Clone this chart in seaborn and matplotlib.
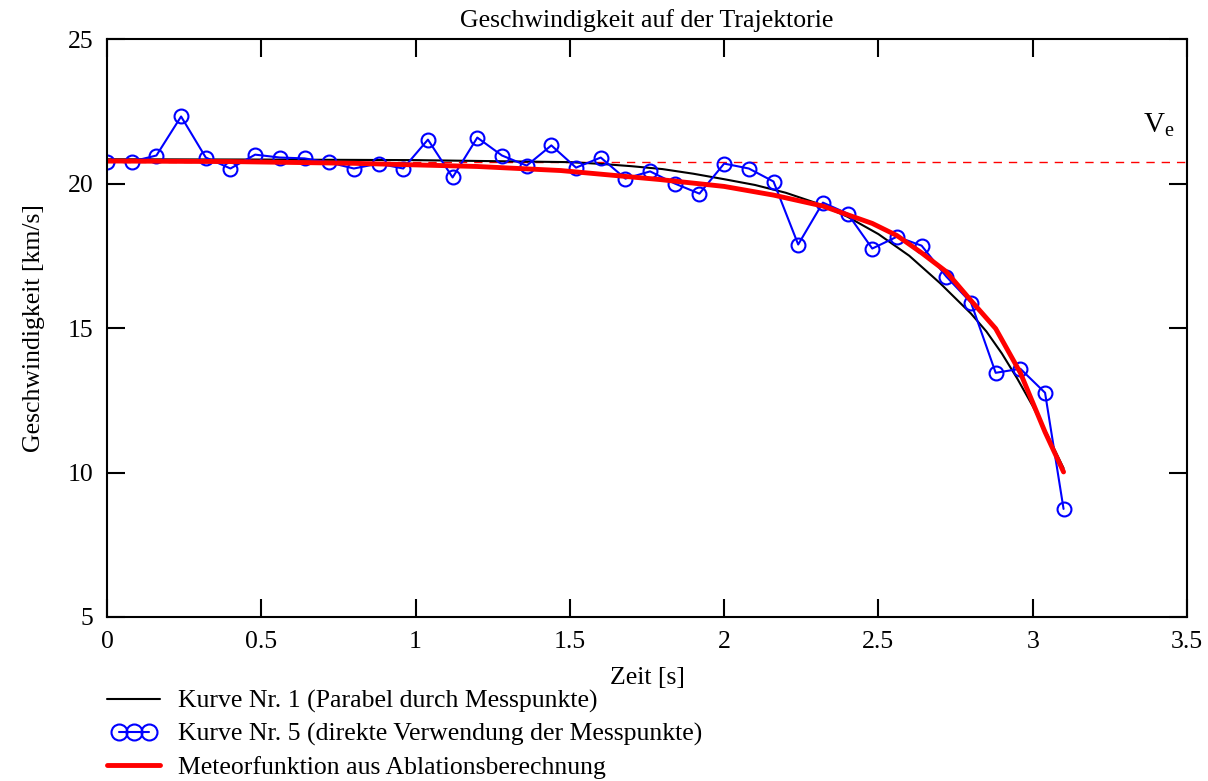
import numpy as np
import pandas as pd
import seaborn as sns
import matplotlib.pyplot as plt
from matplotlib.lines import Line2D
from matplotlib.legend_handler import HandlerLine2D

# measured points (Kurve Nr. 5)
t_mess = [0.00, 0.08, 0.16, 0.24, 0.32, 0.40, 0.48, 0.56, 0.64, 0.72,
          0.80, 0.88, 0.96, 1.04, 1.12, 1.20, 1.28, 1.36, 1.44, 1.52,
          1.60, 1.68, 1.76, 1.84, 1.92, 2.00, 2.08, 2.16, 2.24, 2.32,
          2.40, 2.48, 2.56, 2.64, 2.72, 2.80, 2.88, 2.96, 3.04, 3.10]
v_mess = [20.76, 20.76, 20.97, 22.32, 20.90, 20.52, 21.00, 20.90, 20.87, 20.73,
          20.52, 20.69, 20.52, 21.52, 20.21, 21.59, 20.97, 20.62, 21.32, 20.55,
          20.90, 20.17, 20.42, 20.00, 19.65, 20.69, 20.52, 20.07, 17.89, 19.34,
          18.96, 17.75, 18.16, 17.85, 16.78, 15.88, 13.45, 13.59, 12.76, 8.74]

# parabola through the measured points (Kurve Nr. 1)
t_parabel = [0.00, 0.50, 1.00, 1.50, 1.60, 1.70, 1.80, 1.90, 2.00, 2.10,
             2.20, 2.30, 2.40, 2.50, 2.60, 2.70, 2.80, 2.85, 2.90, 2.95,
             3.00, 3.05, 3.10]
v_parabel = [20.84, 20.83, 20.81, 20.74, 20.68, 20.60, 20.50, 20.34, 20.15, 19.95,
             19.68, 19.32, 18.85, 18.25, 17.50, 16.55, 15.50, 14.88, 14.12, 13.25,
             12.30, 11.25, 10.15]

# meteor function from ablation calculation
t_meteor = [0.00, 0.40, 0.80, 1.20, 1.47, 1.79, 2.00, 2.16, 2.32, 2.48,
            2.56, 2.64, 2.72, 2.80, 2.88, 2.96, 3.04, 3.10]
v_meteor = [20.78, 20.76, 20.70, 20.59, 20.45, 20.14, 19.90, 19.60, 19.22, 18.62,
            18.20, 17.60, 16.95, 15.95, 14.98, 13.45, 11.40, 10.02]

v_e = 20.76

sns.set_style("ticks")
plt.rcParams['font.family'] = ['Liberation Serif', 'DejaVu Serif']
plt.rcParams['mathtext.fontset'] = 'custom'
plt.rcParams['mathtext.rm'] = 'Liberation Serif'
plt.rcParams['mathtext.it'] = 'Liberation Serif'
plt.rcParams['text.color'] = 'black'
plt.rcParams['axes.labelcolor'] = 'black'

fs = 18.5

fig = plt.figure(figsize=(12.08, 7.81), dpi=100)
ax = fig.add_axes([0.0886, 0.21, 0.894, 0.74])

ax.axhline(v_e, color="red", lw=1, ls=(0, (6, 5)))

sns.lineplot(x=t_parabel, y=v_parabel, ax=ax, color="black", lw=1.5,
             sort=False, estimator=None)
sns.lineplot(x=t_mess, y=v_mess, ax=ax, color="blue", lw=1.5, marker="o",
             markersize=10, markerfacecolor="none", markeredgecolor="blue",
             markeredgewidth=1.5, sort=False, estimator=None)
sns.lineplot(x=t_meteor, y=v_meteor, ax=ax, color="red", lw=3.5,
             sort=False, estimator=None)

ax.set_xlim(0, 3.5)
ax.set_ylim(5, 25)
ax.set_xticks(np.arange(0, 3.51, 0.5))
ax.set_xticklabels(["0", "0.5", "1", "1.5", "2", "2.5", "3", "3.5"])
ax.set_yticks([5, 10, 15, 20, 25])
ax.tick_params(direction="in", length=13, width=1.5, top=True, right=True,
               labelsize=fs, pad=10, colors="black")
for s in ax.spines.values():
    s.set_visible(True)
    s.set_linewidth(1.5)
    s.set_color("black")

ax.set_title("Geschwindigkeit auf der Trajektorie", fontsize=fs, pad=9)
ax.set_xlabel("Zeit [s]", fontsize=fs, labelpad=10)
ax.set_ylabel("Geschwindigkeit [km/s]", fontsize=fs, labelpad=16)

ax.text(3.46, 22.0, r"V$_{\mathrm{e}}$", fontsize=21, ha="right", va="center")

h_parabel = Line2D([], [], color="black", lw=1.5)
h_mess = Line2D([], [], color="blue", lw=1.5, marker="o", markersize=11.5,
                markerfacecolor="none", markeredgewidth=1.5)
h_meteor = Line2D([], [], color="red", lw=3.5)
labels = ["Kurve Nr. 1 (Parabel durch Messpunkte)",
          "Kurve Nr. 5 (direkte Verwendung der Messpunkte)",
          "Meteorfunktion aus Ablationsberechnung"]
fig.legend([h_parabel, h_mess, h_meteor], labels, loc="upper left",
           bbox_to_anchor=(0.0886, 0.117), frameon=False, fontsize=fs,
           handlelength=2.07, labelspacing=0.38, handletextpad=0.7,
           borderaxespad=0, borderpad=0,
           handler_map={h_parabel: HandlerLine2D(numpoints=1),
                        h_meteor: HandlerLine2D(numpoints=1),
                        h_mess: HandlerLine2D(numpoints=3, marker_pad=0.45)})

fig.savefig("out.png", dpi=100)
